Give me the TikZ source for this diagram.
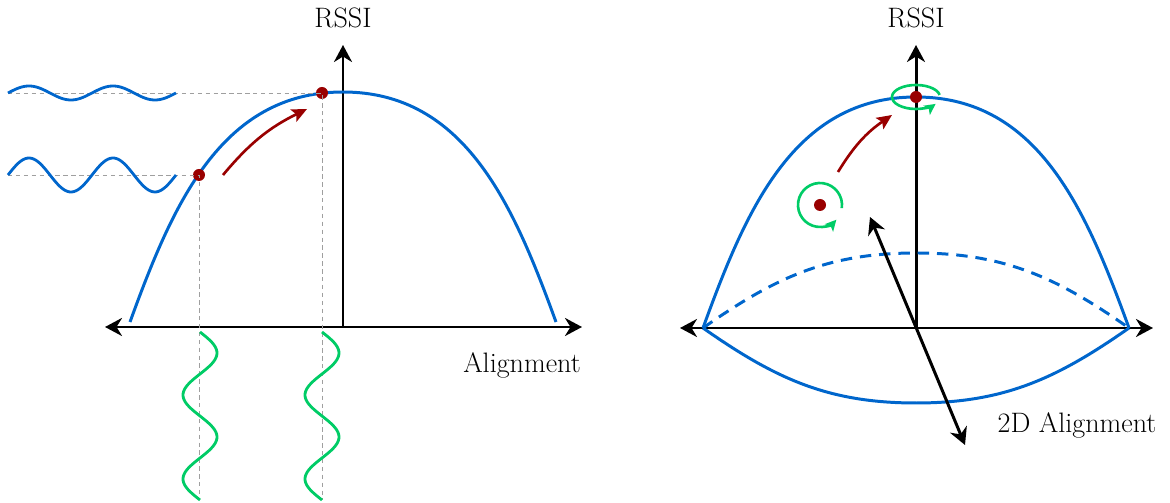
\documentclass[tikz,border=0pt]{standalone}
\usepackage{tikz}
\usetikzlibrary{arrows.meta}
\definecolor{sigblue}{RGB}{0,102,204}
\definecolor{sigred}{RGB}{153,0,0}
\definecolor{siggreen}{RGB}{0,204,102}

\begin{document}
\begin{tikzpicture}[x=0.02cm, y=0.02cm,
    axis/.style={line width=1.7pt, {Stealth[length=3.4mm, width=3.6mm, inset=1.1mm]}-{Stealth[length=3.4mm, width=3.6mm, inset=1.1mm]}},
    upaxis/.style={line width=1.7pt, -{Stealth[length=3.4mm, width=3.6mm, inset=1.1mm]}},
    curve/.style={draw=sigblue, line width=1.7pt},
    guide/.style={draw=gray!75, line width=0.5pt, dash pattern=on 2.5pt off 2pt},
    wave/.style={draw=sigblue, line width=1.6pt, smooth},
    gwave/.style={draw=siggreen, line width=1.6pt, smooth},
    dot/.style={circle, fill=sigred, inner sep=0pt, minimum size=0.24cm},
    move/.style={draw=sigred, line width=1.5pt, -{Stealth[length=3mm, width=2.7mm, inset=0.6mm]}},
    spin/.style={draw=siggreen, line width=1.5pt, -{Stealth[length=2.2mm, width=2.2mm, inset=0.5mm]}},
    lbl/.style={font=\fontsize{16}{19}\selectfont, inner sep=0pt}
]
    \useasboundingbox (0,0) rectangle (1170,503);

    % left: 1D alignment
    \coordinate (oL) at (343,176);
    \coordinate (xlL) at (105,176);
    \coordinate (xrL) at (582,176);
    \coordinate (ytL) at (343,458);
    \draw[axis] (xlL) -- (xrL);
    \draw[upaxis] (oL) -- (ytL);
    \node[lbl, anchor=base] (rssiL) at (343,475) {RSSI};
    \node[lbl, anchor=base] (alignL) at (522,130) {Alignment};

    \draw[curve] (130,181) to[out=70, in=180] (343,411) to[out=0, in=110] (556,181);

    \node[dot] (lowL) at (199,328) {};
    \node[dot] (highL) at (322,410) {};
    \coordinate (gl1) at (8,328);
    \coordinate (gl2) at (8,410);
    \coordinate (gb1) at (199,3);
    \coordinate (gb2) at (322,3);
    \draw[guide] (gl1) -- (lowL.center) -- (gb1);
    \draw[guide] (gl2) -- (highL.center) -- (gb2);

    \draw[wave] plot[domain=8:176, samples=80] (\x, {410 + 7*sin((\x-8)/84*360)});
    \draw[wave] plot[domain=8:176, samples=80] (\x, {328 + 17*sin((\x-8)/84*360)});
    \draw[gwave] plot[domain=171:3, samples=80] ({200 + 17*sin((171-\x)/84*360)}, \x);
    \draw[gwave] plot[domain=171:3, samples=80] ({322 + 17*sin((171-\x)/84*360)}, \x);

    \coordinate (mvL1) at (223,328);
    \coordinate (mvL2) at (307,394);
    \draw[move] (mvL1) to[bend left=12] (mvL2);

    % right: 2D alignment
    \coordinate (oR) at (916,175);
    \coordinate (xlR) at (680,175);
    \coordinate (xrR) at (1153,175);
    \coordinate (ytR) at (916,458);
    \coordinate (eL) at (703,175);
    \coordinate (eR) at (1129,175);
    \draw[axis] (xlR) -- (xrR);
    \draw[upaxis] (oR) -- (ytR);
    \node[lbl, anchor=base] (rssiR) at (916,475) {RSSI};

    \draw[curve] (eL) to[out=70, in=180] (916,406) to[out=0, in=110] (eR);
    \draw[curve] (eL) to[out=-35, in=180] (916,100) to[out=0, in=-145] (eR);
    \draw[curve, dash pattern=on 6.5pt off 4.5pt] (eL) to[out=35, in=180] (916,250) to[out=0, in=145] (eR);

    \coordinate (dA) at (870,286);
    \coordinate (dB) at (965,58);
    \draw[axis] (dA) -- (dB);
    \node[lbl, anchor=base] (alignR) at (1077,70) {2D Alignment};

    \node[dot] (lowR) at (820,298) {};
    \node[dot] (highR) at (916,406) {};
    \coordinate (mvR1) at (838,331);
    \coordinate (mvR2) at (892,388);
    \draw[move] (mvR1) to[bend left=12] (mvR2);

    \draw[spin] (lowR.center) ++(-8:22) arc[start angle=-8, end angle=318, radius=22];
    \draw[spin] (highR.center) ++(10:24 and 12) arc[start angle=10, end angle=325, x radius=24, y radius=12];
\end{tikzpicture}
\end{document}
